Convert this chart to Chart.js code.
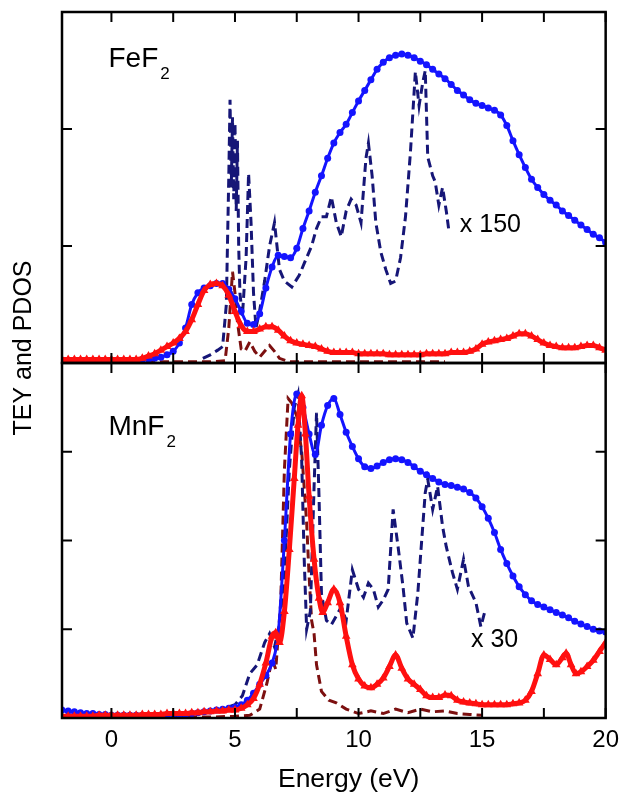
<!DOCTYPE html>
<html>
<head>
<meta charset="utf-8">
<script src="https://cdn.jsdelivr.net/npm/chart.js@4.4.1/dist/chart.umd.min.js"></script>
<style>
  body { margin: 0; background: #fff; }
  #wrap { width: 627px; height: 793px; }
</style>
</head>
<body>
<div id="wrap"><canvas id="xasChart" width="627" height="793"></canvas></div>
<script>
// Energy grid shared by the TEY / fluorescence curves (eV)
const gridE = [
  -2, -1.75, -1.5, -1.25, -1, -0.75, -0.5, -0.25, 0, 0.25, 0.5, 0.75,
  1, 1.25, 1.5, 1.75, 2, 2.25, 2.5, 2.75, 3, 3.25, 3.5, 3.75,
  4, 4.25, 4.5, 4.75, 5, 5.25, 5.5, 5.75, 6, 6.25, 6.5, 6.75,
  7, 7.25, 7.5, 7.75, 8, 8.25, 8.5, 8.75, 9, 9.25, 9.5, 9.75,
  10, 10.25, 10.5, 10.75, 11, 11.25, 11.5, 11.75, 12, 12.25, 12.5, 12.75,
  13, 13.25, 13.5, 13.75, 14, 14.25, 14.5, 14.75, 15, 15.25, 15.5, 15.75,
  16, 16.25, 16.5, 16.75, 17, 17.25, 17.5, 17.75, 18, 18.25, 18.5, 18.75,
  19, 19.25, 19.5, 19.75, 20,
];

// FeF2 panel
const feBlueV = [
  0.02, 0.02, 0.02, 0.02, 0.02, 0.02, 0.02, 0.02, 0.02, 0.02, 0.02, 0.02,
  0.02, 0.03, 0.03, 0.04, 0.05, 0.07, 0.1, 0.17, 0.3, 0.5, 0.6, 0.64,
  0.66, 0.68, 0.68, 0.63, 0.55, 0.44, 0.34, 0.33, 0.42, 0.64, 0.82, 0.92,
  0.91, 0.9, 0.98, 1.15, 1.3, 1.46, 1.6, 1.75, 1.88, 1.97, 2.04, 2.14,
  2.24, 2.33, 2.42, 2.51, 2.57, 2.61, 2.63, 2.64, 2.63, 2.61, 2.58, 2.55,
  2.51, 2.47, 2.43, 2.38, 2.33, 2.29, 2.25, 2.22, 2.2, 2.18, 2.16, 2.12,
  2.03, 1.9, 1.78, 1.67, 1.57, 1.5, 1.44, 1.39, 1.35, 1.3, 1.26, 1.22,
  1.18, 1.14, 1.1, 1.07, 1.03,
];
const feRedV = [
  0.03, 0.03, 0.03, 0.03, 0.03, 0.03, 0.03, 0.03, 0.03, 0.03, 0.03, 0.03,
  0.03, 0.04, 0.06, 0.08, 0.11, 0.14, 0.17, 0.21, 0.27, 0.37, 0.5, 0.62,
  0.67, 0.68, 0.66, 0.58, 0.44, 0.32, 0.27, 0.27, 0.29, 0.31, 0.31, 0.28,
  0.23, 0.19, 0.17, 0.16, 0.15, 0.14, 0.12, 0.1, 0.09, 0.09, 0.09, 0.09,
  0.08, 0.08, 0.08, 0.08, 0.08, 0.07, 0.07, 0.07, 0.07, 0.07, 0.07, 0.08,
  0.08, 0.08, 0.08, 0.09, 0.09, 0.09, 0.1, 0.12, 0.16, 0.18, 0.19, 0.2,
  0.21, 0.23, 0.25, 0.25, 0.23, 0.2, 0.17, 0.15, 0.14, 0.13, 0.13, 0.13,
  0.14, 0.15, 0.15, 0.13, 0.11,
];
const feNavyE = [
  3.7, 4.0, 4.3, 4.5, 4.65, 4.75, 4.8, 4.85, 4.9, 4.95, 5.0, 5.05, 5.1, 5.15,
  5.2, 5.3, 5.45, 5.55, 5.65, 5.75, 5.85, 6.0, 6.2, 6.4, 6.6, 6.7, 6.8, 7.0,
  7.3, 7.6, 7.9, 8.1, 8.3, 8.5, 8.7, 8.9, 9.1, 9.3, 9.5, 9.7, 9.9, 10.1,
  10.3, 10.4, 10.55, 10.7, 10.9, 11.1, 11.3, 11.5, 11.7, 11.9, 12.1, 12.3,
  12.45, 12.6, 12.7, 12.8, 13.0, 13.1, 13.25, 13.4, 13.55, 13.65,
];
const feNavyV = [
  0.04, 0.07, 0.11, 0.14, 0.5, 1.6, 2.25, 1.5, 2.1, 1.4, 2.05, 1.3, 1.9, 1.0,
  0.6, 0.4, 0.9, 1.62, 1.2, 0.6, 0.3, 0.45, 0.7, 1.0, 1.2, 1.0, 0.8, 0.7,
  0.65, 0.75, 0.9, 1.0, 1.15, 1.25, 1.25, 1.42, 1.2, 1.08, 1.3, 1.4, 1.35, 1.2,
  1.75, 1.88, 1.6, 1.2, 0.95, 0.8, 0.68, 0.7, 0.9, 1.25, 1.8, 2.49,
  2.2, 2.4, 2.5, 1.76, 1.6, 1.55, 1.35, 1.5, 1.3, 1.14,
];
const feMaroonE = [-2, 0, 2, 4, 4.6, 4.75, 4.9, 5.0, 5.1, 5.25, 5.4, 5.6, 5.8, 6.0, 6.2, 6.4, 6.6, 6.8, 7.2, 9, 11, 13.5];
const feMaroonV = [0.01, 0.01, 0.01, 0.01, 0.02, 0.3, 0.78, 0.6, 0.35, 0.12, 0.1, 0.18, 0.1, 0.05, 0.1, 0.15, 0.1, 0.04, 0.01, 0.01, 0.01, 0.01];

// MnF2 panel
const mnBlueV = [
  0.09, 0.08, 0.07, 0.06, 0.05, 0.05, 0.04, 0.04, 0.03, 0.03, 0.03, 0.03,
  0.03, 0.03, 0.03, 0.03, 0.03, 0.03, 0.04, 0.04, 0.04, 0.05, 0.06, 0.07,
  0.08, 0.09, 0.1, 0.11, 0.12, 0.15, 0.2, 0.28, 0.38, 0.48, 0.62, 0.95,
  2.0, 3.2, 3.65, 3.5, 3.2, 2.97, 3.3, 3.52, 3.6, 3.42, 3.22, 3.06,
  2.92, 2.83, 2.81, 2.84, 2.88, 2.91, 2.92, 2.91, 2.88, 2.83, 2.78, 2.74,
  2.7, 2.66, 2.63, 2.62, 2.6, 2.58, 2.54, 2.48, 2.38, 2.25, 2.09, 1.9,
  1.74, 1.6, 1.48, 1.39, 1.32, 1.28, 1.25, 1.22, 1.19, 1.16, 1.13, 1.09,
  1.06, 1.03, 1.0, 0.98, 0.97,
];
const mnRedE = [
  -2, -1.75, -1.5, -1.25, -1, -0.75, -0.5, -0.25, 0, 0.25, 0.5, 0.75, 1,
  1.25, 1.5, 1.75, 2, 2.25, 2.5, 2.75, 3, 3.25, 3.5, 3.75, 4,
  4.25, 4.5, 4.75, 5, 5.25, 5.5, 5.75, 6, 6.25, 6.5,
  6.65, 6.8, 7, 7.2, 7.4, 7.55, 7.7, 7.85, 8, 8.2, 8.4, 8.55,
  8.75, 9, 9.25, 9.5, 9.75, 10, 10.25, 10.5, 10.75, 11, 11.25, 11.5, 11.75,
  12, 12.25, 12.5, 12.75, 13, 13.25, 13.5, 13.75, 14, 14.25, 14.5, 14.75, 15,
  15.25, 15.5, 15.75, 16, 16.25, 16.5, 16.75, 17, 17.25, 17.5, 17.75, 18, 18.25,
  18.4, 18.6, 18.8, 19, 19.25, 19.5, 19.75, 20,
];
const mnRedV = [
  0.02, 0.02, 0.02, 0.02, 0.02, 0.02, 0.03, 0.03, 0.03, 0.03, 0.03, 0.03, 0.03,
  0.04, 0.04, 0.04, 0.04, 0.05, 0.05, 0.05, 0.05, 0.06, 0.06, 0.07, 0.07,
  0.08, 0.08, 0.09, 0.09, 0.11, 0.15, 0.22, 0.38, 0.62, 0.92,
  0.96, 0.85, 1.2, 1.9, 2.7, 3.3, 3.63, 3.2, 2.5, 1.79, 1.35, 1.19,
  1.3, 1.45, 1.3, 0.92, 0.6, 0.44, 0.36, 0.34, 0.38, 0.45, 0.58, 0.71, 0.56,
  0.44, 0.38, 0.32, 0.25, 0.23, 0.23, 0.26, 0.25, 0.2, 0.18, 0.17, 0.16, 0.15,
  0.15, 0.15, 0.15, 0.15, 0.16, 0.17, 0.2, 0.3, 0.5, 0.71, 0.66, 0.6, 0.68,
  0.73, 0.6, 0.5, 0.52, 0.58, 0.65, 0.75, 0.85,
];
const mnNavyE = [
  2.0, 3.0, 4.0, 4.5, 5.0, 5.3, 5.6, 5.9, 6.2, 6.4, 6.6, 6.8, 7.0, 7.2, 7.4,
  7.55, 7.7, 7.8, 7.9, 8.05, 8.2, 8.3, 8.4, 8.5, 8.7, 8.9, 9.1, 9.3, 9.5, 9.75,
  10.0, 10.2, 10.4, 10.6, 10.8, 11.0, 11.2, 11.4, 11.6, 11.8, 11.95, 12.2, 12.4,
  12.55, 12.7, 12.8, 13.0, 13.2, 13.4, 13.55, 13.8, 14.0, 14.25, 14.45, 14.75,
  14.95, 15.1,
];
const mnNavyV = [
  0.02, 0.04, 0.07, 0.1, 0.15, 0.25, 0.5, 0.6, 0.85, 0.95, 0.8, 1.05, 1.6, 2.8, 3.5,
  3.65, 2.9, 1.8, 1.0, 1.2, 2.6, 3.44, 2.5, 1.4, 1.1, 1.05, 1.15, 1.25, 1.1, 1.67,
  1.45, 1.36, 1.52, 1.45, 1.25, 1.33, 1.45, 2.35, 1.93, 1.48, 1.07, 0.9, 1.41,
  1.98, 2.54, 2.69, 2.35, 2.61, 2.16, 1.93, 1.64, 1.45, 1.79, 1.48, 1.3,
  1.03, 1.19,
];
const mnMaroonE = [
  -2, 0, 2, 4, 5.0, 5.6, 6.0, 6.3, 6.5, 6.65, 6.85, 7.0, 7.15, 7.3, 7.5, 7.7,
  7.9, 8.0, 8.1, 8.2, 8.3, 8.5, 8.8, 9.1, 9.5, 10, 10.5, 11, 11.5, 12, 12.5,
  13, 13.5, 14, 14.5, 15,
];
const mnMaroonV = [
  0.01, 0.01, 0.01, 0.01, 0.02, 0.03, 0.1, 0.4, 0.66, 0.55, 1.3, 2.8, 3.6, 3.55, 3.4, 3.0,
  2.2, 1.6, 1.1, 0.95, 0.6, 0.3, 0.2, 0.17, 0.1, 0.05, 0.08, 0.05, 0.1, 0.06, 0.1,
  0.07, 0.08, 0.05, 0.04, 0.03,
];

// axis marks
const xLabelTicks = [0, 5, 10, 15, 20];
const xMarks = [0, 2.5, 5, 7.5, 10, 12.5, 15, 17.5, 20];

const fontFamily = '"Liberation Sans", Arial, sans-serif';
const BLUE = "#1414ff";
const RED = "#ff1010";
const NAVY = "#161677";
const MAROON = "#7c1010";

function toPoints(xs, ys) {
  return xs.map((x, i) => ({ x: x, y: ys[i] }));
}

function solidSet(data, color, axis, style, radius, width) {
  return {
    data: data,
    yAxisID: axis,
    borderColor: color,
    backgroundColor: color,
    borderWidth: width,
    pointStyle: style,
    pointRadius: radius,
    pointBorderWidth: 0,
    pointBackgroundColor: color,
    cubicInterpolationMode: "monotone",
  };
}

function dashedSet(data, color, axis) {
  return {
    data: data,
    yAxisID: axis,
    borderColor: color,
    borderWidth: 3,
    borderDash: [9, 5],
    pointRadius: 0,
    tension: 0,
  };
}

// frame, inward ticks on every side of both panels, and the text labels
const panelFrame = {
  id: "panelFrame",
  afterDatasetsDraw(chart) {
    const { ctx, chartArea, scales } = chart;
    const left = chartArea.left;
    const right = chartArea.right;
    ctx.save();
    ctx.strokeStyle = "#000";
    [scales.yTop, scales.yBot].forEach((s) => {
      ctx.lineWidth = 2;
      ctx.beginPath();
      xMarks.forEach((v) => {
        const px = scales.x.getPixelForValue(v);
        ctx.moveTo(px, s.top);
        ctx.lineTo(px, s.top + 10);
        ctx.moveTo(px, s.bottom);
        ctx.lineTo(px, s.bottom - 10);
      });
      s.ticks.forEach((t) => {
        if (t.value <= s.min || t.value >= s.max) return;
        const py = s.getPixelForValue(t.value);
        ctx.moveTo(left, py);
        ctx.lineTo(left + 10, py);
        ctx.moveTo(right, py);
        ctx.lineTo(right - 10, py);
      });
      ctx.stroke();
      ctx.lineWidth = 2.5;
      ctx.strokeRect(left, s.top, right - left, s.bottom - s.top);
    });

    ctx.fillStyle = "#000";
    ctx.textBaseline = "alphabetic";
    ctx.textAlign = "left";

    // compound names with subscript
    const drawFormula = (main, sub, e, v, axis) => {
      const px = scales.x.getPixelForValue(e);
      const py = scales[axis].getPixelForValue(v);
      ctx.font = "28px " + fontFamily;
      ctx.fillText(main, px, py);
      const w = ctx.measureText(main).width;
      ctx.font = "17px " + fontFamily;
      ctx.fillText(sub, px + w + 2, py + 12);
    };
    drawFormula("FeF", "2", -0.12, 2.53, "yTop");
    drawFormula("MnF", "2", -0.12, 3.19, "yBot");

    ctx.font = "25px " + fontFamily;
    ctx.fillText("x 150", scales.x.getPixelForValue(14.1), scales.yTop.getPixelForValue(1.12));
    ctx.fillText("x 30", scales.x.getPixelForValue(14.55), scales.yBot.getPixelForValue(0.8));

    // x title sits a little right of the plot centre in the original
    ctx.textAlign = "center";
    ctx.font = "26.5px " + fontFamily;
    ctx.fillText("Energy (eV)", scales.x.getPixelForValue(9.6), 787);

    // shared y title
    ctx.translate(24, 348);
    ctx.rotate(-Math.PI / 2);
    ctx.textBaseline = "middle";
    ctx.font = "25px " + fontFamily;
    ctx.fillText("TEY and PDOS", 0, 0);
    ctx.restore();
  },
};

const ctx = document.getElementById("xasChart").getContext("2d");
const xasChart = new Chart(ctx, {
  type: "line",
  data: {
    datasets: [
      solidSet(toPoints(gridE, feRedV), RED, "yTop", "triangle", 5, 5),
      solidSet(toPoints(gridE, feBlueV), BLUE, "yTop", "circle", 3.5, 3),
      dashedSet(toPoints(feNavyE, feNavyV), NAVY, "yTop"),
      dashedSet(toPoints(feMaroonE, feMaroonV), MAROON, "yTop"),
      solidSet(toPoints(mnRedE, mnRedV), RED, "yBot", "triangle", 5, 5),
      solidSet(toPoints(gridE, mnBlueV), BLUE, "yBot", "circle", 3.5, 3),
      dashedSet(toPoints(mnNavyE, mnNavyV), NAVY, "yBot"),
      dashedSet(toPoints(mnMaroonE, mnMaroonV), MAROON, "yBot"),
    ],
  },
  options: {
    responsive: false,
    animation: false,
    layout: { padding: { left: 62, right: 18, top: 12, bottom: 0 } },
    plugins: {
      legend: { display: false },
      tooltip: { enabled: false },
    },
    scales: {
      x: {
        type: "linear",
        position: "bottom",
        min: -2,
        max: 20,
        afterFit: (s) => {
          s.height = 75;
        },
        afterBuildTicks: (s) => {
          s.ticks = xLabelTicks.map((v) => ({ value: v }));
        },
        grid: { display: false, drawTicks: false },
        border: { display: false },
        ticks: {
          color: "#000",
          font: { family: fontFamily, size: 24 },
          padding: 8,
          maxRotation: 0,
        },
      },
      // stacked panels: the first axis in the stack is placed at the bottom
      yBot: {
        type: "linear",
        position: "left",
        stack: "panels",
        stackWeight: 355,
        min: 0,
        max: 4,
        afterFit: (s) => {
          s.width = 0;
        },
        ticks: { display: false, stepSize: 1 },
        grid: { display: false },
        border: { display: false },
      },
      yTop: {
        type: "linear",
        position: "left",
        stack: "panels",
        stackWeight: 351,
        min: 0,
        max: 3,
        afterFit: (s) => {
          s.width = 0;
        },
        ticks: { display: false, stepSize: 1 },
        grid: { display: false },
        border: { display: false },
      },
    },
  },
  plugins: [panelFrame],
});
</script>
</body>
</html>
